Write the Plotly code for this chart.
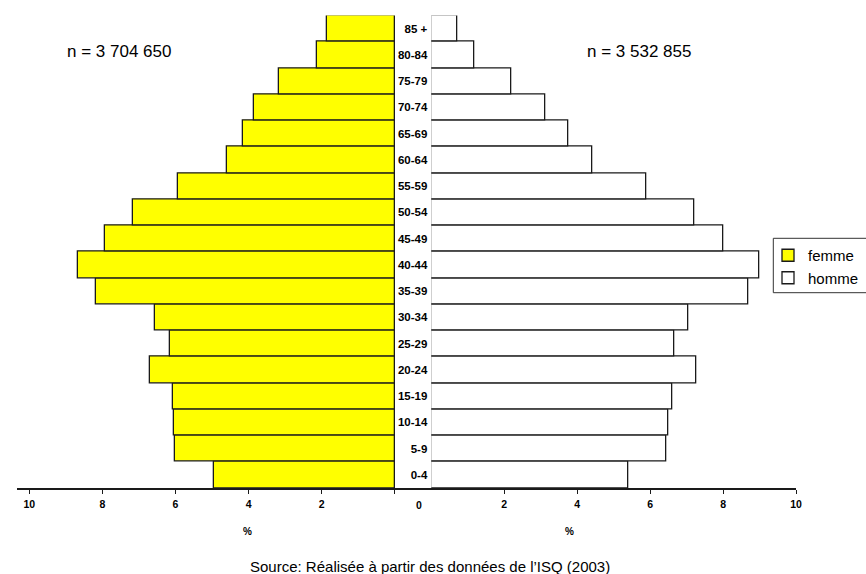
import plotly.graph_objects as go

ages = ["0-4", "5-9", "10-14", "15-19", "20-24", "25-29", "30-34", "35-39", "40-44",
        "45-49", "50-54", "55-59", "60-64", "65-69", "70-74", "75-79", "80-84", "85 +"]
femme = [4.94, 6.02, 6.05, 6.07, 6.71, 6.16, 6.57, 8.18, 8.68,
         7.94, 7.16, 5.92, 4.59, 4.15, 3.85, 3.18, 2.13, 1.86]
homme = [5.39, 6.45, 6.49, 6.60, 7.27, 6.66, 7.05, 8.68, 8.99,
         8.02, 7.20, 5.89, 4.41, 3.75, 3.12, 2.18, 1.18, 0.71]
tick_vals = [0, 2, 4, 6, 8, 10]
tick_text = ["", "2", "4", "6", "8", "10"]
n_femme = "n = 3 704 650"
n_homme = "n = 3 532 855"
source = "Source: Réalisée à partir des données de l’ISQ (2003)"

W, H = 866, 574
FONT = "Arial, 'Liberation Sans', sans-serif"
EDGE = "#1a1a1a"

def px(x):
    return x / W

def py(y):
    return 1 - y / H

fig = go.Figure()
fig.add_trace(go.Bar(y=ages, x=femme, orientation="h", name="femme",
                     marker=dict(color="#FFFF00", line=dict(color=EDGE, width=1.3)),
                     xaxis="x", yaxis="y", legendgroup="f"))
fig.add_trace(go.Bar(y=ages, x=homme, orientation="h", name="homme",
                     marker=dict(color="#FFFFFF", line=dict(color=EDGE, width=1.3)),
                     xaxis="x2", yaxis="y2", legendgroup="h"))

ydom = [py(488), py(15.5)]
xfont = dict(family=FONT, size=10.5, color="black", weight="bold")

fig.update_layout(
    width=W, height=H,
    margin=dict(l=0, r=0, t=0, b=0, autoexpand=False),
    paper_bgcolor="white", plot_bgcolor="rgba(0,0,0,0)",
    bargap=0,
    font=dict(family=FONT, color="black"),
    xaxis=dict(domain=[px(17), px(431.3)], range=[10.337, -1.0016], anchor="y",
               tickvals=tick_vals, ticktext=tick_text, ticks="outside", ticklen=4,
               tickcolor=EDGE, showline=True, linecolor=EDGE, linewidth=1.5,
               showgrid=False, zeroline=False, tickfont=xfont, fixedrange=True,
               ticklabelstandoff=2, automargin=False),
    xaxis2=dict(domain=[px(431.3), px(796)], range=[0, 10], anchor="y2",
                tickvals=tick_vals[1:], ticktext=tick_text[1:], ticks="outside", ticklen=4,
                tickcolor=EDGE, showline=True, linecolor=EDGE, linewidth=1.5,
                showgrid=False, zeroline=False, tickfont=xfont, fixedrange=True,
                ticklabelstandoff=2, automargin=False),
    yaxis=dict(domain=ydom, anchor="x", type="category", categoryorder="array",
               categoryarray=ages, range=[-0.5, 17.5], showticklabels=False,
               showgrid=False, zeroline=False, showline=False, ticks="",
               automargin=False),
    yaxis2=dict(domain=ydom, anchor="x2", type="category", categoryorder="array",
                categoryarray=ages, range=[-0.5, 17.5], showticklabels=True,
                ticklabelstandoff=3, automargin=False,
                tickfont=dict(family=FONT, size=11.5, color="black", weight="bold"),
                showgrid=False, zeroline=False, showline=False, ticks=""),
    legend=dict(x=px(768), y=py(239), xanchor="left", yanchor="top",
                bgcolor="rgba(0,0,0,0)", borderwidth=0,
                font=dict(family=FONT, size=15, color="black"),
                tracegroupgap=7, traceorder="normal"),
    showlegend=True,
)

ann = [
    dict(x=px(119), y=py(51), text=n_femme, font=dict(size=17)),
    dict(x=px(638.5), y=py(51), text=n_homme, font=dict(size=17)),
    dict(x=px(418.5), y=py(505), text="0", font=dict(size=10.5, weight="bold")),
    dict(x=px(247.7), y=py(531), text="%", font=dict(size=10, weight="bold")),
    dict(x=px(569.3), y=py(531), text="%", font=dict(size=10, weight="bold")),
    dict(x=px(430), y=py(566), text=source, font=dict(size=15)),
]
for a in ann:
    a.update(xref="paper", yref="paper", xanchor="center", yanchor="middle",
             showarrow=False)
    a["font"] = dict(family=FONT, color="black", **a["font"])
    fig.add_annotation(**a)

fig.add_shape(type="rect", xref="paper", yref="paper",
              x0=px(773.3), x1=1.05, y0=py(292.7), y1=py(238.3),
              line=dict(color="#333333", width=1), fillcolor="rgba(0,0,0,0)")

fig.write_html("out.html", config={"displayModeBar": False})
